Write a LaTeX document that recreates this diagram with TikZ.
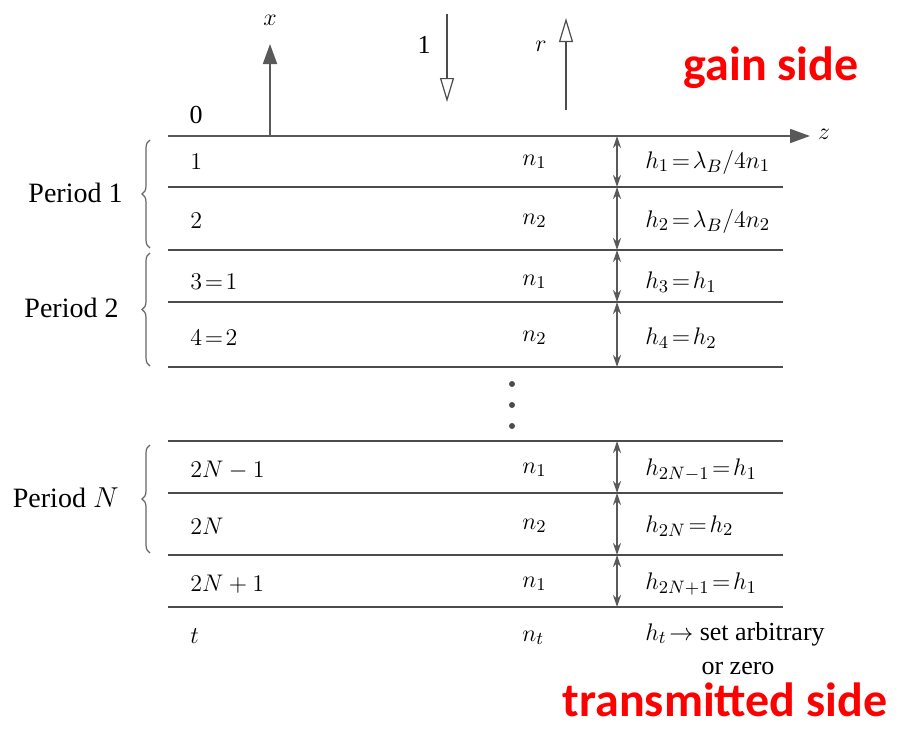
\documentclass[tikz,border=0pt]{standalone}
\usepackage{amsmath,amssymb}
\usepackage{fontspec}
\setmainfont{Liberation Serif}
\newfontfamily\notefont{Carlito}
\usepackage{xcolor}
\usetikzlibrary{arrows.meta,decorations.pathreplacing}

\begin{document}
\begin{tikzpicture}[
  x=0.5pt, y=-0.5pt,
  layer/.style={draw=black!70, line width=1.3pt},
  txt/.style={inner sep=0pt, font=\fontsize{13}{15}\selectfont},
  lay/.style={txt, anchor=west},
  per/.style={inner sep=0pt, anchor=east, font=\fontsize{14}{16}\selectfont},
  hgt/.style={{Stealth[length=6pt,width=4pt]}-{Stealth[length=6pt,width=4pt]}, draw=black!65, line width=0.6pt},
  axis/.style={-{Triangle[length=10pt,width=7pt]}, draw=black!65, line width=0.9pt},
  wave/.style={-{Triangle[open,length=12pt,width=7pt]}, draw=black!70, line width=0.6pt},
  brc/.style={decorate, decoration={brace,amplitude=4pt}, draw=black!60, line width=0.6pt},
  note/.style={text=red, inner sep=0pt, font=\notefont\bfseries\fontsize{24}{27}\selectfont}
]
  \useasboundingbox (0,0) rectangle (903,728);

  % interfaces
  \foreach \y/\n in {136/l0,187/l1,250/l2,302/l3,367/l4,441/l5,493/l6,555/l7,607/l8} {
    \coordinate (\n w) at (168,\y);
    \coordinate (\n e) at (783,\y);
    \coordinate (\n h) at (617,\y);
  }
  \foreach \n in {l1,l2,l3,l4,l5,l6,l7,l8}
    \draw[layer] (\n w) -- (\n e);

  % axes
  \coordinate (zt) at (810,136);
  \node[txt] (zlbl) at (824,134) {$z$};
  \draw[axis] (l0w) -- (zt);
  \coordinate (xb) at (270,136);
  \coordinate (xt) at (270,44);
  \node[txt] (xlbl) at (270,20) {$x$};
  \draw[axis] (xb) -- (xt);
  \node[txt] (zero) at (196,115) {0};

  % incident and reflected waves
  \coordinate (inT) at (447,14);
  \coordinate (inB) at (447,102);
  \node[txt] (inlbl) at (424,45) {1};
  \draw[wave] (inT) -- (inB);
  \coordinate (rB) at (566,110);
  \coordinate (rT) at (566,18);
  \node[txt] (rlbl) at (541,46) {$r$};
  \draw[wave] (rB) -- (rT);

  % layer numbers
  \node[lay] (a1) at (190,162) {$1$};
  \node[lay] (a2) at (190,221) {$2$};
  \node[lay] (a3) at (190,282) {$3\!=\!1$};
  \node[lay] (a4) at (190,338) {$4\!=\!2$};
  \node[lay] (a5) at (190,470) {$2N-1$};
  \node[lay] (a6) at (190,526) {$2N$};
  \node[lay] (a7) at (190,584) {$2N+1$};
  \node[lay] (at) at (190,636) {$t$};

  % indices
  \node[lay] (n1) at (522,162) {$n_1$};
  \node[lay] (n2) at (522,221) {$n_2$};
  \node[lay] (n3) at (522,282) {$n_1$};
  \node[lay] (n4) at (522,338) {$n_2$};
  \node[lay] (n5) at (522,470) {$n_1$};
  \node[lay] (n6) at (522,526) {$n_2$};
  \node[lay] (n7) at (522,584) {$n_1$};
  \node[lay] (nt) at (522,638) {$n_t$};

  % thicknesses
  \draw[hgt] (l0h) -- (l1h);
  \draw[hgt] (l1h) -- (l2h);
  \draw[hgt] (l2h) -- (l3h);
  \draw[hgt] (l3h) -- (l4h);
  \draw[hgt] (l5h) -- (l6h);
  \draw[hgt] (l6h) -- (l7h);
  \draw[hgt] (l7h) -- (l8h);
  \node[lay] (h1) at (645,162) {$h_1 \!=\! \lambda_B/4n_1$};
  \node[lay] (h2) at (645,221) {$h_2 \!=\! \lambda_B/4n_2$};
  \node[lay] (h3) at (645,282) {$h_3 \!=\! h_1$};
  \node[lay] (h4) at (645,338) {$h_4 \!=\! h_2$};
  \node[lay] (h5) at (645,470) {$h_{2N-1} \!=\! h_1$};
  \node[lay] (h6) at (645,526) {$h_{2N} \!=\! h_2$};
  \node[lay] (h7) at (645,584) {$h_{2N+1} \!=\! h_1$};
  \node[lay] (ht) at (645,634) {$h_t \!\rightarrow$ set arbitrary};
  \node[txt] (hz) at (738,668) {or zero};

  % more periods
  \foreach \y in {384,405,426}
    \fill[black!70] (512,\y) circle (3);

  % periods
  \coordinate (p1b) at (150,248);
  \coordinate (p1t) at (150,140);
  \coordinate (p2b) at (150,366);
  \coordinate (p2t) at (150,253);
  \coordinate (pNb) at (150,553);
  \coordinate (pNt) at (150,445);
  \draw[brc] (p1b) -- (p1t);
  \draw[brc] (p2b) -- (p2t);
  \draw[brc] (pNb) -- (pNt);
  \node[per] (per1) at (123,193) {Period 1};
  \node[per] (per2) at (119,308) {Period 2};
  \node[per] (perN) at (119,498) {Period $N$};

  % sides
  \node[note] (gain) at (771,68) {gain side};
  \node[note] (trans) at (725,700) {transmitted side};
\end{tikzpicture}
\end{document}
